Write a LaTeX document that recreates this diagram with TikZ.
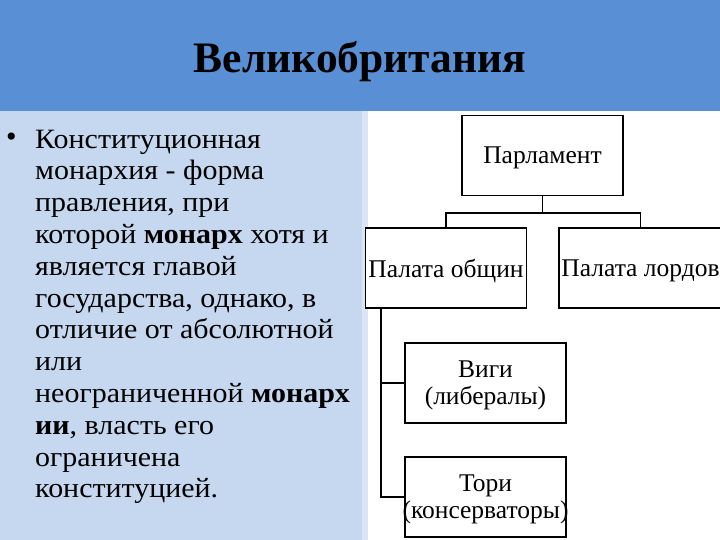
\documentclass[tikz,border=0pt]{standalone}
\usepackage{fontspec}
\setmainfont{Liberation Serif}
\newfontfamily\bodyfont[FakeStretch=1.07]{Liberation Serif}
\usetikzlibrary{calc}
\definecolor{hdr}{RGB}{89,143,213}
\definecolor{panel}{RGB}{198,216,239}
\definecolor{paneledge}{RGB}{218,229,245}
\begin{document}
\begin{tikzpicture}[x=1pt,y=-1pt,
  box/.style={draw=black, line width=1.3pt, fill=white, inner sep=0pt, align=center,
    minimum width=161pt, minimum height=80pt, text depth=0pt, font=\fontsize{25.5}{27}\selectfont},
  conn/.style={draw=black, line width=1.3pt},
  body/.style={inner sep=0pt, align=left, anchor=north west, font=\bodyfont\fontsize{28}{31.8}\selectfont}]
\useasboundingbox (0,0) rectangle (720,540);
\fill[hdr] (0,0) rectangle (720,111);
\fill[panel] (0,111) rectangle (366,540);
\fill[paneledge] (362,111) rectangle (368,540);
\node[anchor=base, inner sep=0pt, font=\bfseries\fontsize{43.5}{48}\selectfont] (title) at (360,73) {Великобритания};
\node[inner sep=0pt, anchor=base west, font=\fontsize{30}{32}\selectfont] (bullet) at (6,147) {•};
\node[body] (text) at (35,129.5) {Конституционная\\
монархия - форма\\
правления, при\\
которой \textbf{монарх} хотя и\\
является главой\\
государства, однако, в\\
отличие от абсолютной\\
или\\
неограниченной \textbf{монарх}\\
\textbf{ии}, власть его\\
ограничена\\
конституцией.};
\node[box] (parl) at (542.5,155.5) {Парламент};
\node[box] (obsh) at (446,268) {Палата общин};
\node[box, minimum width=163pt] (lord) at (640.5,268) {Палата лордов};
\node[box] (vigi) at (485.5,383) {Виги\\(либералы)};
\node[box] (tori) at (485.5,497) {Тори\\\makebox[155pt][c]{(консерваторы)}};
\draw[conn] (parl.south) -- ++(0,17) coordinate (j) -| (obsh.north);
\draw[conn] (j) -| (lord.north);
\coordinate (s) at ($(obsh.south west)!0.1!(obsh.south east)$);
\draw[conn] (s) |- (vigi.west);
\draw[conn] (s) |- (tori.west);
\end{tikzpicture}
\end{document}
